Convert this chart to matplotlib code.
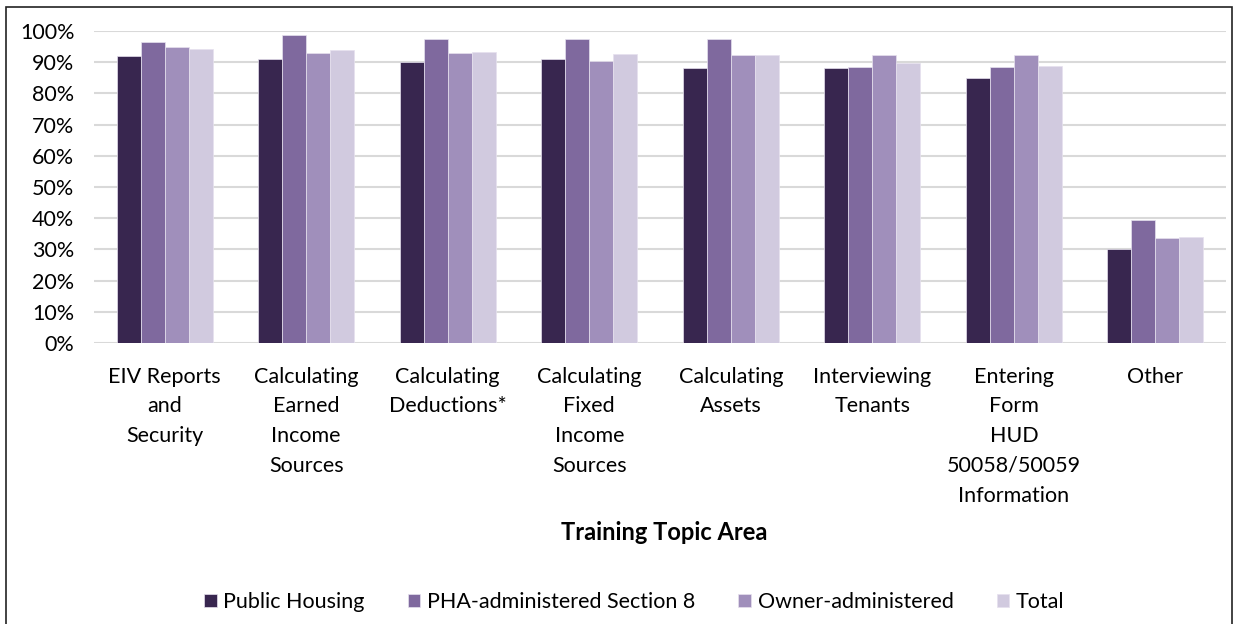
import numpy as np
import matplotlib.pyplot as plt
from matplotlib.patches import Rectangle

plt.rcParams['font.family'] = ['Lato', 'DejaVu Sans']

topics = ['EIV Reports\nand\nSecurity', 'Calculating\nEarned\nIncome\nSources',
          'Calculating\nDeductions*', 'Calculating\nFixed\nIncome\nSources',
          'Calculating\nAssets', 'Interviewing\nTenants',
          'Entering\nForm\nHUD\n50058/50059\nInformation', 'Other']
public_housing = [92, 91, 90, 91, 88, 88, 85, 30]
pha_section8 = [96.5, 98.7, 97.5, 97.5, 97.5, 88.6, 88.6, 39.3]
owner_admin = [94.8, 93, 93, 90.5, 92.2, 92.2, 92.2, 33.6]
total = [94.2, 93.9, 93.3, 92.6, 92.3, 89.7, 88.7, 34]

series = ['Public Housing', 'PHA-administered Section 8', 'Owner-administered', 'Total']
colors = ['#38264f', '#7f699e', '#a08fbb', '#d1cadf']

fig = plt.figure(figsize=(12.36, 6.24), dpi=100)
ax = fig.add_axes([0.076, 0.4503, 0.916, 0.5])

x = np.arange(len(topics))
w = 0.17
for i, (vals, lab, c) in enumerate(zip([public_housing, pha_section8, owner_admin, total], series, colors)):
    ax.bar(x + (i - 1.5) * w, vals, w, color=c, label=lab, edgecolor='#e6e1ee', linewidth=0.5, zorder=3)

ax.set_ylim(0, 100)
ax.set_xlim(-0.5, len(topics) - 0.5)
ax.set_yticks(range(0, 101, 10))
ax.set_yticklabels([f'{v}%' for v in range(0, 101, 10)])
ax.yaxis.grid(True, color='#d9d9d9', linewidth=1.5, zorder=0)
ax.set_axisbelow(True)
for s in ax.spines.values():
    s.set_visible(False)
ax.tick_params(length=0, labelsize=15.5, colors='black')
ax.tick_params(axis='y', pad=14)
ax.tick_params(axis='x', pad=17)
ax.set_xticks(x)
ax.set_xticklabels(topics, linespacing=1.61)

fig.text(0.537, 1 - 532 / 624, 'Training Topic Area', ha='center', va='center', fontsize=17, fontweight='bold')

fig.legend(loc='center', bbox_to_anchor=(0.513, 1 - 602 / 624), ncol=4, frameon=False,
           fontsize=15.5, handlelength=0.6, handleheight=0.6, handletextpad=0.3, columnspacing=2.0)

fig.patches.append(Rectangle((6 / 1236, -0.05), (1232 - 6) / 1236, 1.05 - 7 / 624,
                             transform=fig.transFigure, fill=False, edgecolor='#222222', linewidth=1.2))

fig.savefig('out.png', dpi=100)
